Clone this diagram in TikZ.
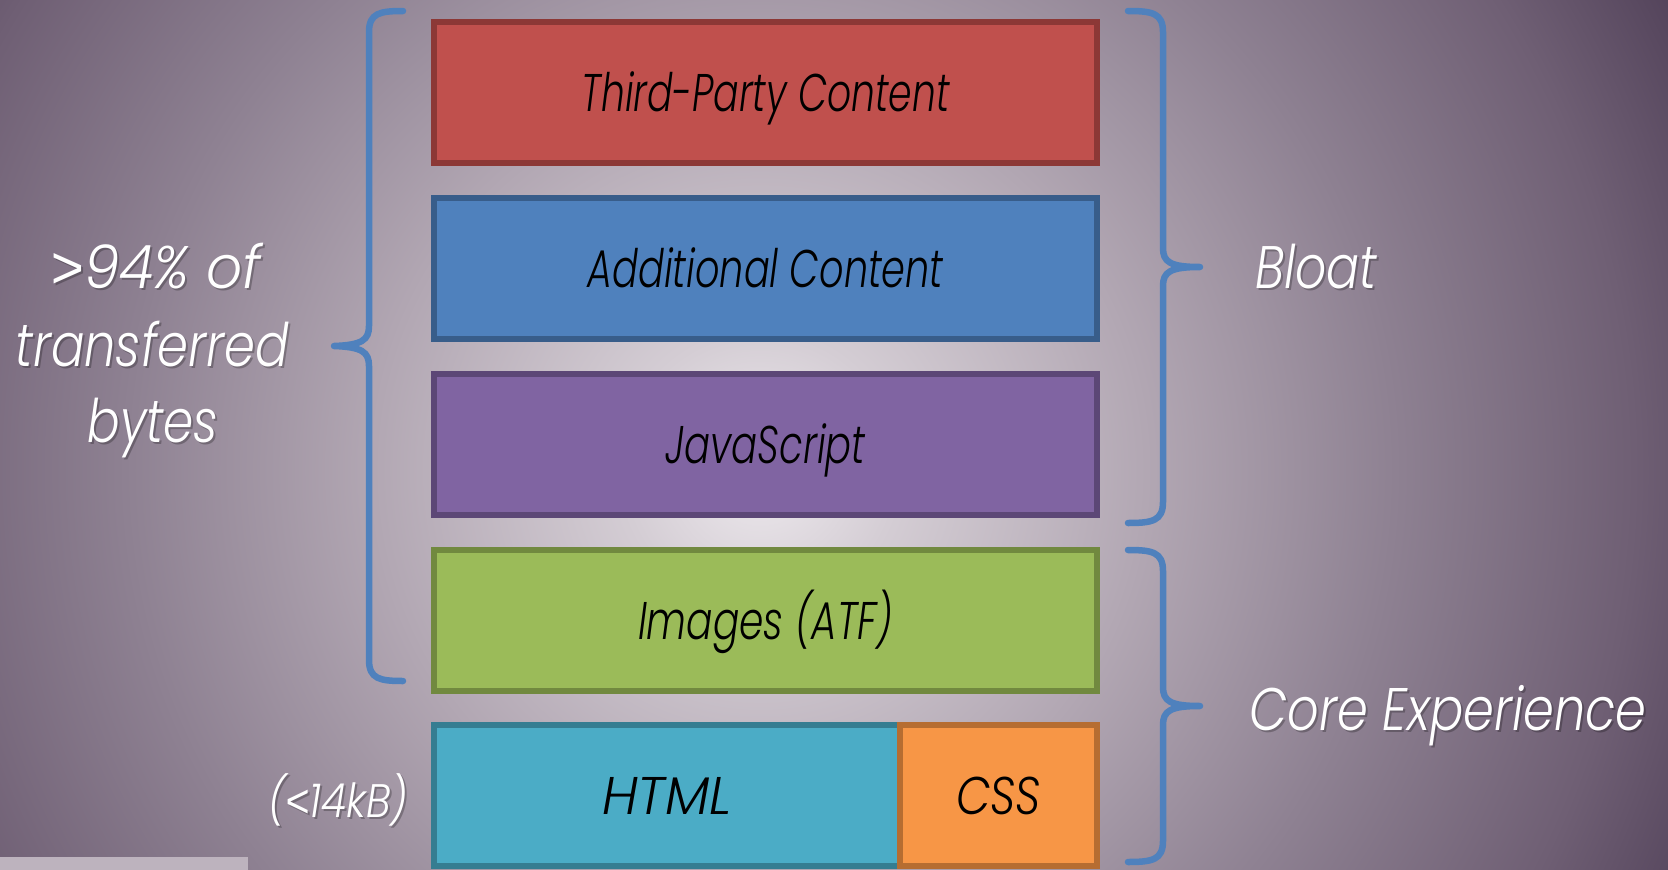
\documentclass[tikz,border=0pt]{standalone}
\usepackage{fontspec}
\setmainfont{Poppins}[ItalicFont={Poppins Light Italic}]
\newfontfamily\symfont{Liberation Sans}
\usepackage{graphicx}
\definecolor{bg0}{HTML}{EEEAEE}
\definecolor{bg1}{HTML}{D4CDD4}
\definecolor{bg2}{HTML}{B2A7B3}
\definecolor{bg3}{HTML}{8E8192}
\definecolor{bg4}{HTML}{6F5F74}
\definecolor{bg5}{HTML}{4E3E56}
\definecolor{redF}{HTML}{C0504D}
\definecolor{redD}{HTML}{8C3836}
\definecolor{blueF}{HTML}{4F81BD}
\definecolor{blueD}{HTML}{385D8A}
\definecolor{purF}{HTML}{8064A2}
\definecolor{purD}{HTML}{5C4776}
\definecolor{grnF}{HTML}{9BBB59}
\definecolor{grnD}{HTML}{71893F}
\definecolor{aquaF}{HTML}{4BACC6}
\definecolor{aquaD}{HTML}{357D91}
\definecolor{orF}{HTML}{F79646}
\definecolor{orD}{HTML}{B66D31}
\definecolor{braceblue}{HTML}{4F81BD}
\definecolor{stripc}{HTML}{BDB3BE}
\pgfdeclareradialshading{bgshade}{\pgfpoint{0bp}{0bp}}{color(0bp)=(bg0); color(3bp)=(bg1); color(8.4bp)=(bg2); color(13.8bp)=(bg3); color(19bp)=(bg4); color(23bp)=(bg5); color(50bp)=(bg5)}
\newcommand{\fitw}[2]{\resizebox{#1pt}{\height}{#2}}
\newcommand{\boxfont}{\fontsize{53}{60}\selectfont\itshape}
\newcommand{\sidefont}{\fontsize{60}{66}\selectfont\itshape}
\newcommand{\smallside}{\fontsize{47}{52}\selectfont\itshape}
\newcommand{\sym}[1]{{\symfont\itshape #1}}
\begin{document}
\begin{tikzpicture}[x=1pt,y=-1pt,
  blk/.style={draw, line width=6pt, inner sep=0pt, minimum height=141pt,
    text height=37pt, text depth=0pt, font=\boxfont, text=black},
  brace/.style={draw=braceblue, line width=6.5pt, line cap=round, line join=round},
  side/.style={anchor=base, text=white, inner sep=0pt, font=\sidefont},
  sideshadow/.style={side, text=black, text opacity=0.25}]
\useasboundingbox (0,0) rectangle (1668,870);
\begin{scope}
\clip (0,0) rectangle (1668,870);
\shade[shading=bgshade] (760,470) circle (1150);
\end{scope}
\fill[stripc] (0,857) rectangle (248,870);
% boxes
\node[blk, fill=redF, draw=redD, minimum width=663pt] (tp) at (765.5,92.5) {\fitw{368}{Third-Party Content}};
\node[blk, fill=blueF, draw=blueD, minimum width=663pt] (ac) at (765.5,268.5) {\fitw{356}{Additional Content}};
\node[blk, fill=purF, draw=purD, minimum width=663pt] (js) at (765.5,444.5) {\fitw{200}{JavaScript}};
\node[blk, fill=grnF, draw=grnD, minimum width=663pt] (img) at (765.5,620.5) {\fitw{255}{Images (ATF)}};
\node[blk, fill=aquaF, draw=aquaD, minimum width=466pt] (html) at (667,795.5) {\fitw{130}{HTML}};
\node[blk, fill=orF, draw=orD, minimum width=197pt] (css) at (998.5,795.5) {\fitw{85}{CSS}};
% braces
\draw[brace] (403,11) .. controls (380,11) and (369,13) .. (369,32) -- (369,326) .. controls (369,340) and (362,345) .. (334,346) .. controls (362,347) and (369,352) .. (369,366) -- (369,660) .. controls (369,679) and (380,681) .. (403,681);
\draw[brace] (1128,11) .. controls (1152,11) and (1163,13) .. (1163,32) -- (1163,248) .. controls (1163,262) and (1170,267) .. (1200,267) .. controls (1170,267) and (1163,272) .. (1163,286) -- (1163,502) .. controls (1163,521) and (1152,523) .. (1128,523);
\draw[brace] (1128,550) .. controls (1152,550) and (1163,552) .. (1163,571) -- (1163,687) .. controls (1163,701) and (1170,706) .. (1200,706) .. controls (1170,706) and (1163,711) .. (1163,725) -- (1163,841) .. controls (1163,860) and (1152,862) .. (1128,862);
% side labels
\node[sideshadow] (bloatS) at (1318,290) {\fitw{122}{Bloat}};
\node[side] (bloat) at (1316,288) {\fitw{122}{Bloat}};
\node[sideshadow] (coreS) at (1450,732) {\fitw{397}{Core Experience}};
\node[side] (core) at (1448,730) {\fitw{397}{Core Experience}};
\node[sideshadow] (l1S) at (158,290) {\fitw{210}{\sym{>}94\% of}};
\node[side] (l1) at (156,288) {\fitw{210}{\sym{>}94\% of}};
\node[sideshadow] (l2S) at (154,368) {\fitw{273}{transferred}};
\node[side] (l2) at (152,366) {\fitw{273}{transferred}};
\node[sideshadow] (l3S) at (155,444) {\fitw{131}{bytes}};
\node[side] (l3) at (153,442) {\fitw{131}{bytes}};
\node[sideshadow, font=\smallside] (kbS) at (340,819) {\fitw{140}{(\sym{<}14kB)}};
\node[side, font=\smallside] (kb) at (338,817) {\fitw{140}{(\sym{<}14kB)}};
\end{tikzpicture}
\end{document}
